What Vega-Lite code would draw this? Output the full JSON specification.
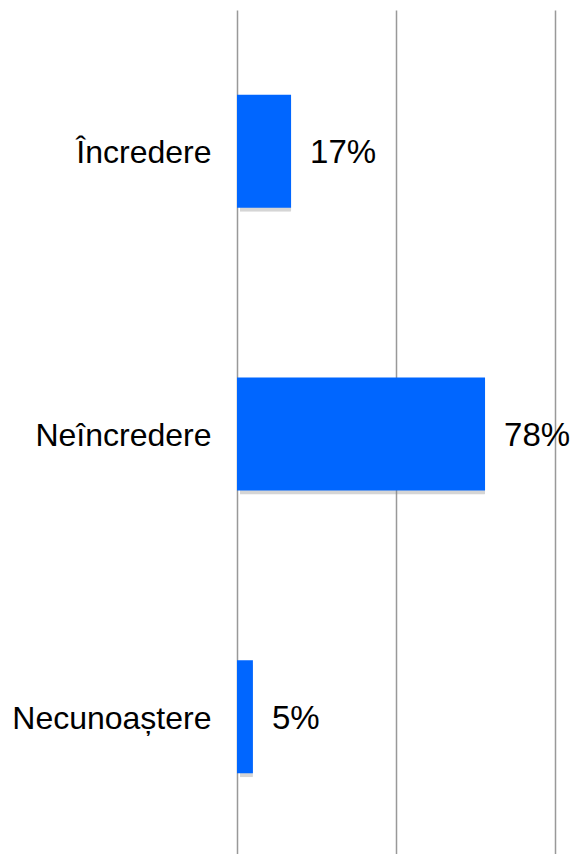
{
  "$schema": "https://vega.github.io/schema/vega-lite/v6.json",
  "width": 318,
  "height": 848,
  "autosize": {"type": "none"},
  "padding": {"top": 10, "left": 237, "right": 15, "bottom": 0},
  "background": "white",
  "data": {"values": [
    {"cat": "Încredere", "val": 17, "label": "17%"},
    {"cat": "Neîncredere", "val": 78, "label": "78%"},
    {"cat": "Necunoaștere", "val": 5, "label": "5%"}
  ]},
  "encoding": {
    "y": {"field": "cat", "type": "nominal", "sort": null, "title": null,
      "scale": {"paddingInner": 0.6, "paddingOuter": 0.3},
      "axis": {"domain": false, "ticks": false, "labelFontSize": 32, "labelFont": "Liberation Sans", "labelColor": "black", "labelPadding": 26, "labelLimit": 300, "labelBaseline": "middle", "labelOffset": 2}},
    "x": {"field": "val", "type": "quantitative", "title": null,
      "scale": {"domain": [0, 100], "nice": false},
      "axis": {"values": [0, 50, 100], "labels": false, "ticks": false, "domain": false, "grid": true, "gridColor": "#999999", "gridWidth": 1.5}}
  },
  "layer": [
    {"mark": {"type": "bar", "color": "#888888", "opacity": 0.35, "xOffset": 3, "yOffset": 4, "cornerRadius": 1}},
    {"mark": {"type": "bar", "color": "#0066FF"}},
    {"mark": {"type": "text", "align": "left", "dx": 19, "dy": 2, "fontSize": 33, "font": "Liberation Sans", "color": "black"},
     "encoding": {"text": {"field": "label"}}}
  ],
  "config": {"view": {"stroke": null}}
}
